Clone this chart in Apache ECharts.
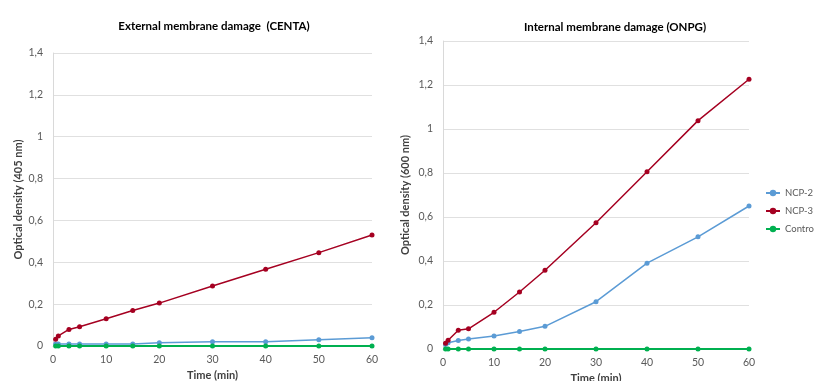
<!DOCTYPE html>
<html>
<head>
<meta charset="utf-8">
<script src="https://cdn.jsdelivr.net/npm/echarts@6/dist/echarts.min.js"></script>
<style>html,body{margin:0;padding:0;background:#fff}#c{width:815px;height:381px}</style>
</head>
<body>
<div id="c"></div>
<script>
const times = [0.5, 1, 3, 5, 10, 15, 20, 30, 40, 50, 60];
const centaNCP2 = [0.01, 0.01, 0.01, 0.01, 0.01, 0.01, 0.016, 0.02, 0.02, 0.03, 0.04];
const centaNCP3 = [0.032, 0.048, 0.079, 0.092, 0.13, 0.17, 0.205, 0.287, 0.367, 0.446, 0.53];
const centaControl = [0, 0, 0, 0, 0, 0, 0, 0, 0, 0, 0];
const onpgNCP2 = [0.02, 0.028, 0.039, 0.045, 0.059, 0.08, 0.103, 0.215, 0.39, 0.51, 0.65];
const onpgNCP3 = [0.026, 0.04, 0.085, 0.092, 0.167, 0.259, 0.358, 0.574, 0.806, 1.038, 1.226];
const onpgControl = [0, 0, 0, 0, 0, 0, 0, 0, 0, 0, 0];
const seriesNames = ['NCP-2', 'NCP-3', 'Contro'];
const titles = ['External membrane damage  (CENTA)', 'Internal membrane damage (ONPG)'];
const yNames = ['Optical density (405 nm)', 'Optical density (600 nm)'];
const xName = 'Time (min)';

const colors = ['#5B9BD5', '#A50021', '#00B050'];
const font = 'Lato, "Open Sans", sans-serif';
const pair = (ys) => times.map((t, i) => [t, ys[i]]);

const mkX = (gi, gap) => ({
  type: 'value', gridIndex: gi, min: 0, max: 60, interval: 10,
  name: xName, nameLocation: 'middle', nameGap: gap,
  nameTextStyle: { fontFamily: font, fontSize: 11, fontWeight: 'bold', color: '#404040' },
  axisLine: { show: true, lineStyle: { color: '#d9d9d9' } },
  axisTick: { show: false },
  splitLine: { show: false },
  axisLabel: { fontFamily: font, fontSize: 10.5, color: '#595959', margin: 8 }
});
const mkY = (gi, gap) => ({
  type: 'value', gridIndex: gi, min: 0, max: 1.4, interval: 0.2,
  name: yNames[gi], nameLocation: 'middle', nameGap: gap,
  nameTextStyle: { fontFamily: font, fontSize: 11, fontWeight: 'bold', color: '#404040' },
  axisLine: { show: true, lineStyle: { color: '#d9d9d9' } },
  axisTick: { show: false },
  splitLine: { show: true, lineStyle: { color: '#e0e0e0' } },
  axisLabel: { fontFamily: font, fontSize: 10.5, color: '#595959', margin: 10,
    formatter: v => String(Math.round(v * 10) / 10).replace('.', ',') }
});
const mkS = (name, data, gi, ci) => ({
  name, type: 'line', xAxisIndex: gi, yAxisIndex: gi, data: pair(data),
  symbol: 'circle', symbolSize: 5, animation: false,
  lineStyle: { color: colors[ci], width: ci === 2 ? 2 : 1.5 },
  itemStyle: { color: colors[ci] }
});

const chart = echarts.init(document.getElementById('c'));
chart.setOption({
  backgroundColor: '#fff',
  title: [
    { text: titles[0], left: 209, top: 15, textAlign: 'center',
      textStyle: { fontFamily: font, fontSize: 11.5, fontWeight: 'bold', color: '#000' } },
    { text: titles[1], left: 610, top: 16, textAlign: 'center',
      textStyle: { fontFamily: font, fontSize: 11.5, fontWeight: 'bold', color: '#000' } }
  ],
  legend: {
    orient: 'vertical', left: 765, top: 188, padding: 0, itemGap: 8, itemWidth: 14, itemHeight: 8,
    data: seriesNames,
    textStyle: { fontFamily: font, fontSize: 9.5, color: '#595959' }
  },
  grid: [
    { left: 53, right: 443, top: 53, bottom: 35, outerBoundsMode: 'none', containLabel: false },
    { left: 443, right: 66, top: 41, bottom: 32, outerBoundsMode: 'none', containLabel: false }
  ],
  xAxis: [mkX(0, 23), mkX(1, 22)],
  yAxis: [mkY(0, 29), mkY(1, 32)],
  series: [
    mkS(seriesNames[0], centaNCP2, 0, 0),
    mkS(seriesNames[1], centaNCP3, 0, 1),
    mkS(seriesNames[2], centaControl, 0, 2),
    mkS(seriesNames[0], onpgNCP2, 1, 0),
    mkS(seriesNames[1], onpgNCP3, 1, 1),
    mkS(seriesNames[2], onpgControl, 1, 2)
  ]
});
</script>
</body>
</html>
